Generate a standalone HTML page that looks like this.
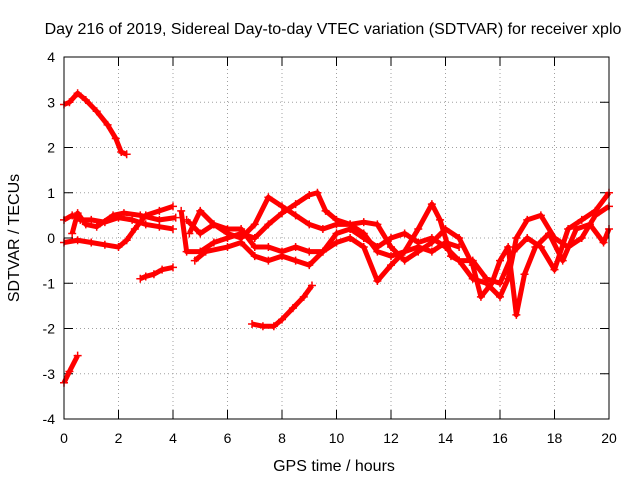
<!DOCTYPE html>
<html><head><meta charset="utf-8"><style>
body{margin:0;background:#fff;}
svg{display:block;font-family:"Liberation Sans",sans-serif;}
</style></head><body>
<svg id="chart" width="640" height="480">
<text x="333" y="34" text-anchor="middle" font-size="16">Day 216 of 2019, Sidereal Day-to-day VTEC variation (SDTVAR) for receiver xplo</text>
<text x="334" y="471" text-anchor="middle" font-size="16">GPS time / hours</text>
<text transform="translate(19,238) rotate(-90)" text-anchor="middle" font-size="16">SDTVAR / TECUs</text>
<g id="grid"></g><g id="marks"></g>
<rect x="64" y="57" width="545" height="362" fill="none" stroke="#000"/>
</svg>
<script>
const xTicks=[0,2,4,6,8,10,12,14,16,18,20];
const yTicks=[-4,-3,-2,-1,0,1,2,3,4];
const track1=[[0,2.95],[0.2,3.0],[0.5,3.2],[0.8,3.05],[1.2,2.8],[1.6,2.5],[1.9,2.2],[2.1,1.9],[2.3,1.85]];
const track2=[[0,-3.2],[0.2,-2.95],[0.5,-2.6]];
const track3=[[2.8,-0.9],[3.0,-0.85],[3.3,-0.8],[3.6,-0.7],[4.0,-0.65]];
const track4=[[6.9,-1.9],[7.3,-1.95],[7.7,-1.95],[8.0,-1.8],[8.4,-1.55],[8.8,-1.3],[9.1,-1.05]];
const track5=[[0,0.4],[0.3,0.5],[0.6,0.4],[1.0,0.4],[1.5,0.35],[2.0,0.45],[2.5,0.4],[3.0,0.3],[3.5,0.25],[4.0,0.2]];
const track6=[[0,-0.1],[0.5,-0.05],[1.0,-0.1],[1.5,-0.15],[2.0,-0.2],[2.3,-0.05],[2.6,0.2],[3.0,0.5],[3.5,0.6],[4.0,0.7]];
const track7=[[0.3,0.1],[0.5,0.55],[0.8,0.3],[1.2,0.25],[1.8,0.5],[2.2,0.55],[2.8,0.5],[3.5,0.4],[4.1,0.45]];
const track8=[[4.3,0.6],[4.5,-0.3],[5,-0.3],[5.5,-0.1],[6,0],[6.5,0.1],[7,0.0],[7.5,0.3],[8,0.55],[8.5,0.75],[9.0,0.95],[9.3,1.0],[9.6,0.6],[10.0,0.4],[10.5,0.3],[11,0.1],[11.5,-0.3],[12,-0.4],[12.5,-0.3],[13,-0.2],[13.5,-0.3],[14,-0.1],[14.5,-0.2]];
const track9=[[4.5,0.4],[5.0,0.1],[5.5,0.3],[6,0.2],[6.5,0.2],[7,-0.2],[7.5,-0.2],[8,-0.3],[8.5,-0.2],[9,-0.3],[9.5,-0.3],[10,-0.1],[10.5,0.0],[11,-0.2],[11.5,-0.95],[12,-0.6],[12.5,-0.3],[13,0.2],[13.5,0.75],[13.8,0.4],[14.2,-0.4],[14.5,-0.5],[15,-0.9],[15.5,-1.0],[16,-1.3],[16.3,-0.9],[16.6,0.0],[17,0.4],[17.5,0.5],[18,0.0],[18.5,-0.2],[19,0.0],[19.5,0.5],[20,0.7]];
const track10=[[4.6,0.1],[5,0.6],[5.5,0.3],[6,0.1],[6.5,0.0],[7,0.3],[7.5,0.9],[8,0.7],[8.5,0.5],[9,0.3],[9.5,0.2],[10,0.3],[10.5,0.3],[11,0.35],[11.5,0.3],[12,-0.2],[12.5,-0.5],[13,-0.3],[13.5,-0.1],[14,0.2],[14.5,0.0],[15,-0.6],[15.3,-1.3],[15.7,-1.0],[16,-0.5],[16.3,-0.2],[16.6,-1.7],[16.9,-0.8],[17.3,-0.2],[17.8,0.1],[18.3,-0.5],[18.8,0.2],[19.3,0.3],[19.8,-0.1],[20,0.2]];
const track11=[[4.8,-0.5],[5.2,-0.3],[6,-0.2],[6.5,-0.1],[7,-0.4],[7.5,-0.5],[8,-0.4],[8.5,-0.5],[9,-0.6],[9.5,-0.3],[10,0.1],[10.5,0.2],[11,0.0],[11.5,-0.2],[12,0.0],[12.5,0.1],[13,-0.1],[13.5,0.0],[14,-0.2],[14.5,-0.5],[15,-0.5],[15.5,-0.9],[16,-1.0],[16.5,-0.3],[17,0.0],[17.5,-0.2],[18,-0.7],[18.5,0.2],[19,0.4],[19.5,0.6],[20,1.0]];
const tracks=[track1,track2,track3,track4,track5,track6,track7,track8,track9,track10,track11];
const X=v=>64+v*(545/20), Y=v=>238-v*(362/8);
const NS='http://www.w3.org/2000/svg';
const grid=document.getElementById('grid'), marks=document.getElementById('marks');
function mk(tag,attrs,parent){const e=document.createElementNS(NS,tag);for(const k in attrs)e.setAttribute(k,attrs[k]);parent.appendChild(e);return e;}
xTicks.forEach(t=>{
  const x=X(t);
  if(t>0&&t<20){const g=mk('line',{x1:x,x2:x,y1:57,y2:419,stroke:'#a0a0a0','stroke-dasharray':'1,3'},grid);
  
  }
  mk('line',{x1:x,x2:x,y1:419,y2:410,stroke:'#000'},grid);
  mk('line',{x1:x,x2:x,y1:57,y2:66,stroke:'#000'},grid);
  const l=mk('text',{x:x,y:443,'text-anchor':'middle','font-size':14},grid);l.textContent=t;
  
  
});
yTicks.forEach(t=>{
  const y=Y(t);
  if(t>-4&&t<4){const g=mk('line',{x1:64,x2:609,y1:y,y2:y,stroke:'#a0a0a0','stroke-dasharray':'1,3'},grid);
  
  }
  mk('line',{x1:64,x2:73,y1:y,y2:y,stroke:'#000'},grid);
  mk('line',{x1:600,x2:609,y1:y,y2:y,stroke:'#000'},grid);
  const l=mk('text',{x:55,y:y+5,'text-anchor':'end','font-size':14},grid);l.textContent=t;
  
  
});
tracks.forEach(tr=>{
  const p=mk('polyline',{points:tr.map(d=>X(d[0])+','+Y(d[1])).join(' '),fill:'none',stroke:'#ff0000','stroke-width':5,'stroke-linejoin':'round'},marks);
  
  
  tr.forEach(d=>{
    const x=X(d[0]),y=Y(d[1]);
    const m=mk('path',{d:`M${x-4},${y}H${x+4}M${x},${y-4}V${y+4}`,stroke:'#ff0000','stroke-width':1.5},marks);
    
    
  });
});
</script>
</body></html>
